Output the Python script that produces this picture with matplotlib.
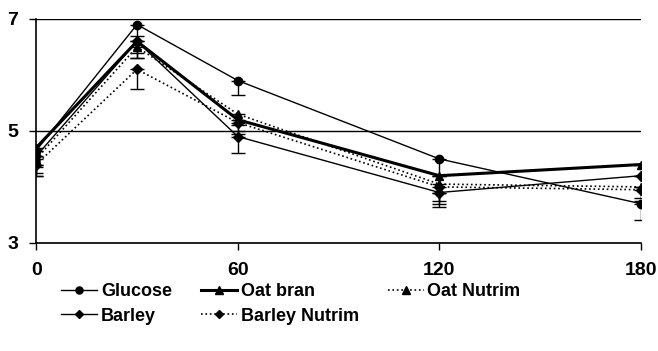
import matplotlib
matplotlib.use('Agg')
import matplotlib.pyplot as plt
import numpy as np

plt.rcParams['font.family'] = ['Liberation Sans', 'DejaVu Sans']
plt.rcParams['font.weight'] = 'bold'

minutes = [0, 30, 60, 120, 180]

glucose = [4.65, 6.9, 5.9, 4.5, 3.7]
glucose_err = [0.3, 0.2, 0.25, 0.3, 0.3]

oat_bran = [4.7, 6.6, 5.2, 4.2, 4.4]
oat_bran_err = [0.3, 0.2, 0.2, 0.3, 0.2]

oat_nutrim = [4.5, 6.5, 5.3, 4.05, 4.0]
oat_nutrim_err = [0.3, 0.2, 0.2, 0.3, 0.2]

barley = [4.55, 6.6, 4.9, 3.9, 4.2]
barley_err = [0.3, 0.3, 0.3, 0.25, 0.2]

barley_nutrim = [4.4, 6.1, 5.15, 4.0, 3.95]
barley_nutrim_err = [0.2, 0.35, 0.2, 0.3, 0.2]

series = [
    ('Glucose', glucose, glucose_err, '-', 'o', 1.0, 6),
    ('Oat bran', oat_bran, oat_bran_err, '-', '^', 2.2, 6),
    ('Oat Nutrim', oat_nutrim, oat_nutrim_err, ':', '^', 1.2, 6),
    ('Barley', barley, barley_err, '-', 'D', 1.0, 5),
    ('Barley Nutrim', barley_nutrim, barley_nutrim_err, ':', 'D', 1.2, 5),
]

fig = plt.figure(figsize=(6.58, 3.51), dpi=100)
ax = fig.add_axes([0.055, 0.308, 0.919, 0.638])

handles = []
for name, vals, err, ls, mk, lw, ms in series:
    e = ax.errorbar(minutes, vals, yerr=[err, np.zeros(len(err))], color='black',
                    linestyle=ls, linewidth=lw, marker=mk, markersize=ms,
                    ecolor='black', elinewidth=1, capsize=5, label=name)
    handles.append(e)

ax.set_xlim(0, 180)
ax.set_ylim(3, 7)
ax.set_xticks([0, 60, 120, 180])
ax.set_yticks([3, 5, 7])
ax.yaxis.grid(True, color='black', linewidth=1)
ax.set_axisbelow(True)
for s in ['top', 'right']:
    ax.spines[s].set_visible(False)
ax.spines['left'].set_linewidth(1.2)
ax.spines['bottom'].set_linewidth(1.2)
ax.tick_params(axis='both', labelsize=14, direction='out', length=5, width=1)
ax.tick_params(axis='x', pad=9)
ax.tick_params(axis='y', pad=8)
for lab in ax.get_xticklabels() + ax.get_yticklabels():
    lab.set_fontweight('bold')

# legend order: row1 Glucose, Oat bran, Oat Nutrim; row2 Barley, Barley Nutrim
order = [0, 3, 1, 4, 2]
leg = fig.legend([handles[i][0] for i in order], [series[i][0] for i in order],
                 ncol=3, loc='upper left', bbox_to_anchor=(0.082, 0.213),
                 frameon=False, fontsize=13, handlelength=2.0, handletextpad=0.2,
                 columnspacing=1.6, labelspacing=0.4, borderaxespad=0,
                 markerscale=0.85)
for t in leg.get_texts():
    t.set_fontweight('bold')

fig.savefig('out.png', dpi=100)
